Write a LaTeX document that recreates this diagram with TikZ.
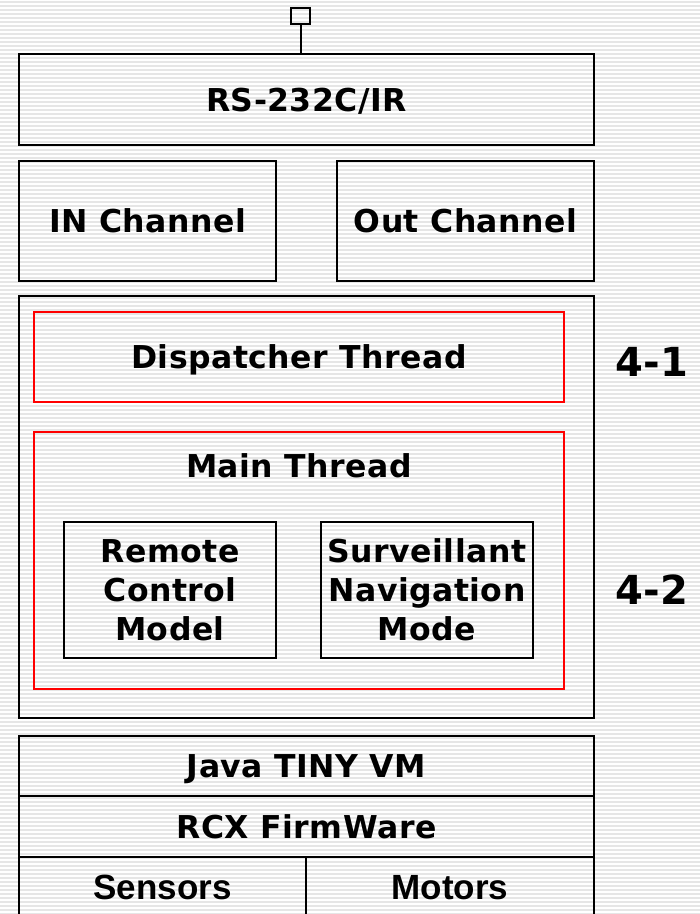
\documentclass[tikz,border=0pt]{standalone}
\usepackage{fontspec}
\setmainfont[LetterSpace=1.5]{DejaVu Sans}
\newfontfamily\arialfont{Liberation Sans}
\usetikzlibrary{positioning}
\definecolor{stripegray}{RGB}{230,230,230}
\definecolor{threadred}{RGB}{255,0,0}
\newcommand\layerfont{\fontsize{31.5}{39}\selectfont\bfseries}
\newcommand\tagfont{\fontsize{40}{48}\selectfont\bfseries}
\newcommand\hwfont{\arialfont\fontsize{35}{39}\selectfont\bfseries}
\tikzset{
 layer/.style={draw,line width=2pt,outer sep=0pt,inner sep=0pt,align=center,
             font=\layerfont},
 flat/.style={text height=23pt,text depth=0pt},
 thread/.style={draw=threadred,line width=1.6pt,outer sep=0pt,inner sep=0pt},
 stripe/.style={stripegray,line width=1.6pt},
 tag/.style={font=\tagfont},
 port/.style={draw,line width=1.6pt,minimum width=19pt,minimum height=16pt,
             inner sep=0pt,outer sep=0pt}
}

\begin{document}
\begin{tikzpicture}[x=1pt,y=-1pt]
\useasboundingbox (0,0) rectangle (700,914);
% lined background
\foreach \y in {2,6,...,914}
  \draw[stripe] (0,\y) -- (700,\y);

\node[port] (com) at (300.5,16) {};
\node[layer,flat,minimum width=575pt,minimum height=91pt] (rs) at (306.5,99.5) {RS-232C/IR};
\node[layer,flat,minimum width=257pt,minimum height=120pt] (inch) at (147.5,221) {IN Channel};
\node[layer,flat,minimum width=257pt,minimum height=120pt] (outch) at (465.5,221) {Out Channel};
\draw[line width=2pt] (com.south) -- (com.south |- rs.north);

% threads
\node[layer,minimum width=575pt,minimum height=422pt] (core) at (306.5,507) {};
\node[thread,flat,minimum width=530pt,minimum height=90pt,font=\layerfont] (disp) at (299,357) {Dispatcher Thread};
\node[thread,minimum width=530pt,minimum height=257pt] (mainth) at (299,560.5) {};
\node[flat,font=\layerfont] (mainlbl) at (299,466) {Main Thread};
\node[layer,minimum width=212pt,minimum height=136pt] (remote) at (170,590) {Remote\\Control\\Model};
\node[layer,minimum width=212pt,minimum height=136pt] (surv) at (427,590) {Surveillant\\Navigation\\Mode};
\node[tag] (t1) at (652,362) {4-1};
\node[tag] (t2) at (652,590) {4-2};

% platform
\node[layer,flat,minimum width=575pt,minimum height=60pt] (java) at (306.5,766) {Java TINY VM};
\node[layer,flat,minimum width=575pt,minimum height=61pt,below=0pt of java] (rcx) {RCX FirmWare};
\node[layer,flat,minimum width=287pt,minimum height=61pt,font=\hwfont,anchor=north west] (sens) at (rcx.south west) {Sensors};
\node[layer,flat,minimum width=288pt,minimum height=61pt,font=\hwfont,right=0pt of sens] (mot) {Motors};
\end{tikzpicture}
\end{document}
